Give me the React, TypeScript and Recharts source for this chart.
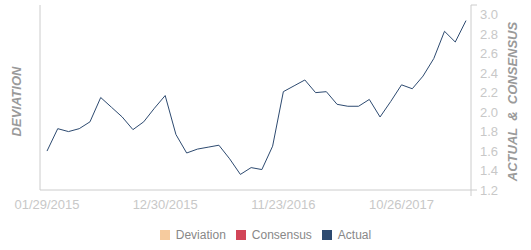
import { LineChart, Line, XAxis, YAxis, Legend } from "recharts";

document.body.style.margin = "0";

// monthly actual values
const actual = [
  1.6, 1.83, 1.8, 1.83, 1.9, 2.15, 2.05, 1.95, 1.82, 1.9,
  2.04, 2.17, 1.77, 1.58, 1.62, 1.64, 1.66, 1.52, 1.36, 1.43,
  1.41, 1.65, 2.21, 2.27, 2.33, 2.2, 2.21, 2.08, 2.06, 2.06,
  2.13, 1.95, 2.11, 2.28, 2.24, 2.37, 2.55, 2.83, 2.72, 2.94,
];

const tickIndices = [0, 11, 22, 33];
const tickLabels = ["01/29/2015", "12/30/2015", "11/23/2016", "10/26/2017"];
const rightTicks = [1.2, 1.4, 1.6, 1.8, 2.0, 2.2, 2.4, 2.6, 2.8, 3.0, 3.1];

const legendItems = [
  { name: "Deviation", color: "#f6cb9e" },
  { name: "Consensus", color: "#d24558" },
  { name: "Actual", color: "#2d4a70" },
];

const data = actual.map((v, i) => ({ idx: i, actual: v }));

const AXIS = "#cccccc";
const FONT = "'Liberation Sans', Arial, sans-serif";

const LeftTick = ({ x, y, payload }: any) => (
  <g>
    <line x1={x - 6} x2={x} y1={y} y2={y} stroke={AXIS} />
    {payload.value === 0 && <line x1={x} x2={x} y1={y} y2={y + 6} stroke={AXIS} />}
  </g>
);

const RightTick = ({ x, y, payload }: any) => {
  const v = payload.value;
  const isEnd = v === 1.2 || v === 3.1;
  return (
    <g>
      {isEnd && <line x1={x} x2={x + 6} y1={y} y2={y} stroke={AXIS} />}
      {v === 1.2 && <line x1={x} x2={x} y1={y} y2={y + 6} stroke={AXIS} />}
      {v !== 3.1 && (
        <text x={x + 9} y={y} dy="0.35em" fill="#c8c8c8" fontSize={13} fontFamily={FONT}>
          {v.toFixed(1)}
        </text>
      )}
    </g>
  );
};

const AxisTitle = ({ viewBox, value, dx }: any) => {
  const cx = viewBox.x + viewBox.width / 2 + dx;
  const cy = viewBox.y + viewBox.height / 2 + 4;
  return (
    <text
      x={cx}
      y={cy}
      transform={`rotate(-90 ${cx} ${cy})`}
      textAnchor="middle"
      dy="0.35em"
      fill="#9a9a9a"
      fontSize={13}
      fontWeight="bold"
      fontStyle="italic"
      fontFamily={FONT}
      style={{ whiteSpace: "pre" }}
    >
      {value}
    </text>
  );
};

const LegendContent = () => (
  <div
    style={{
      height: 30,
      display: "flex",
      justifyContent: "center",
      alignItems: "center",
      gap: 10,
      fontFamily: FONT,
      fontSize: 12,
      color: "#888",
    }}
  >
    {legendItems.map((d) => (
      <div key={d.name} style={{ display: "flex", alignItems: "center", gap: 6 }}>
        <span style={{ width: 10, height: 10, background: d.color, display: "inline-block" }} />
        <span>{d.name}</span>
      </div>
    ))}
  </div>
);

export default function App() {
  return (
    <div style={{ width: 531, height: 250 }}>
      <LineChart width={531} height={250} data={data} margin={{ top: 5, right: 0, bottom: 0, left: 0 }}>
        <XAxis
          dataKey="idx"
          type="category"
          padding={{ left: 7, right: 5 }}
          ticks={tickIndices}
          interval={0}
          tickFormatter={(v: number) => tickLabels[tickIndices.indexOf(v)] ?? ""}
          axisLine={{ stroke: AXIS }}
          tickLine={false}
          tickSize={0}
          tickMargin={10}
          height={30}
          tick={{ fill: "#c8c8c8", fontSize: 13, fontFamily: FONT }}
        />
        <YAxis
          yAxisId="left"
          orientation="left"
          width={40}
          type="number"
          domain={[0, 1]}
          ticks={[0, 1]}
          axisLine={{ stroke: AXIS }}
          tickLine={false}
          tickSize={0}
          tickMargin={0}
          tick={<LeftTick />}
          label={<AxisTitle value="DEVIATION" dx={-4} />}
        />
        <YAxis
          yAxisId="right"
          orientation="right"
          width={60}
          type="number"
          domain={[1.2, 3.1]}
          ticks={rightTicks}
          interval={0}
          allowDataOverflow
          axisLine={{ stroke: AXIS }}
          tickLine={false}
          tickSize={0}
          tickMargin={0}
          tick={<RightTick />}
          label={<AxisTitle value="ACTUAL  &  CONSENSUS" dx={11} />}
        />
        <Legend verticalAlign="bottom" content={<LegendContent />} />
        <Line
          yAxisId="right"
          type="linear"
          dataKey="actual"
          stroke="#2d4a70"
          strokeWidth={1}
          dot={false}
          isAnimationActive={false}
        />
      </LineChart>
    </div>
  );
}
